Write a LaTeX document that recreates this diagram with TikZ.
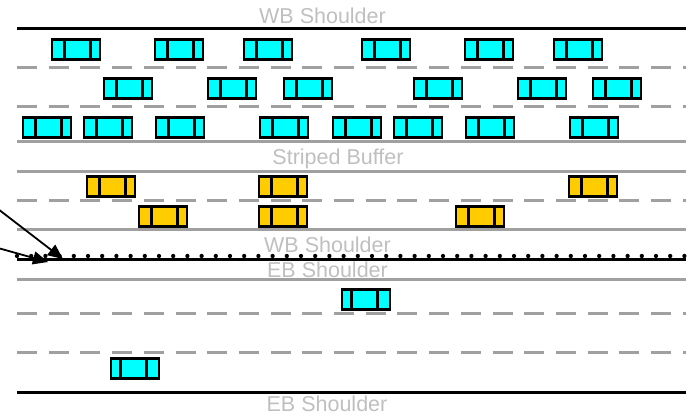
\documentclass[tikz,border=0pt]{standalone}
\usepackage{fontspec}
\newfontfamily\roadfont{Liberation Sans}
\usetikzlibrary{arrows.meta}

\definecolor{lanegray}{HTML}{A0A0A0}
\definecolor{textgray}{HTML}{BFBFBF}
\definecolor{wbcyan}{HTML}{00FFFF}
\definecolor{hovgold}{HTML}{FFCC00}

\begin{document}
\begin{tikzpicture}[x=1pt, y=-1pt,
    car/.style={
        rectangle,
        draw=black,
        line width=2.7pt,
        minimum width=48pt,
        minimum height=19.5pt,
        inner sep=0pt
    },
    westcar/.style={car, fill=#1,
        path picture={
            \draw[line width=2.7pt] ([xshift=12.5pt]path picture bounding box.north west) -- ([xshift=12.5pt]path picture bounding box.south west);
            \draw[line width=2.7pt] ([xshift=-9.5pt]path picture bounding box.north east) -- ([xshift=-9.5pt]path picture bounding box.south east);
        }
    },
    eastcar/.style={car, fill=#1,
        path picture={
            \draw[line width=2.7pt] ([xshift=9.5pt]path picture bounding box.north west) -- ([xshift=9.5pt]path picture bounding box.south west);
            \draw[line width=2.7pt] ([xshift=-12.5pt]path picture bounding box.north east) -- ([xshift=-12.5pt]path picture bounding box.south east);
        }
    },
    edgeline/.style={black, line width=3pt},
    laneline/.style={lanegray, line width=3pt},
    stripe/.style={laneline, dash pattern=on 20pt off 11.7pt},
    dotrow/.style={black, line width=4.3pt, line cap=round, dash pattern=on 0pt off 14.2pt},
    pointer/.style={-{Triangle[length=15pt, width=13pt]}, line width=1.8pt},
    roadlabel/.style={font=\roadfont\fontsize{21.5}{24}\selectfont, text=textgray, anchor=base, inner sep=0pt}
]
\useasboundingbox (0,0) rectangle (694,419);

% labels
\node[roadlabel] (wbtop) at (322.5,24) {WB Shoulder};
\node[roadlabel] (buffer) at (338,165) {Striped Buffer};
\node[roadlabel] (wbmid) at (327.5,253) {WB Shoulder};
\node[roadlabel] (ebmid) at (327.5,278) {EB Shoulder};
\node[roadlabel] (ebbot) at (327,412) {EB Shoulder};

% westbound
\draw[edgeline] (17,29) -- (686,29);
\draw[stripe] (17,68) -- (686,68);
\draw[stripe] (17,107) -- (686,107);
\draw[laneline] (17,142) -- (686,142);

% buffer and hov
\draw[laneline] (17,172) -- (686,172);
\draw[stripe] (17,201) -- (686,201);
\draw[laneline] (17,230) -- (686,230);

% median
\draw[dotrow] (17,256) -- (686,256);
\draw[edgeline] (17,260) -- (686,260);

% eastbound
\draw[laneline] (17,280) -- (686,280);
\draw[stripe] (17,314) -- (686,314);
\draw[stripe] (17,353) -- (686,353);
\draw[edgeline] (17,393) -- (686,393);

% cars
\foreach \x [count=\i] in {76,179,268,386,489,578}
    \node[westcar=wbcyan] (wbA\i) at (\x,49.5) {};
\foreach \x [count=\i] in {128,232,308,438,542,617}
    \node[westcar=wbcyan] (wbB\i) at (\x,88.5) {};
\foreach \x [count=\i] in {47,108,180,284,357,418,490,594}
    \node[westcar=wbcyan] (wbC\i) at (\x,127.5) {};
\foreach \x [count=\i] in {111,283,593}
    \node[westcar=hovgold] (hovA\i) at (\x,186.5) {};
\foreach \x [count=\i] in {163,283,480}
    \node[westcar=hovgold] (hovB\i) at (\x,216.5) {};
\node[eastcar=wbcyan] (ebA1) at (366,299.5) {};
\node[eastcar=wbcyan] (ebC1) at (135,368.5) {};

% pointers
\coordinate (srcA) at (-2,209);
\coordinate (tipA) at (63,259);
\coordinate (srcB) at (-2,248);
\coordinate (tipB) at (48,262);
\draw[pointer] (srcA) -- (tipA);
\draw[pointer] (srcB) -- (tipB);

\end{tikzpicture}
\end{document}
